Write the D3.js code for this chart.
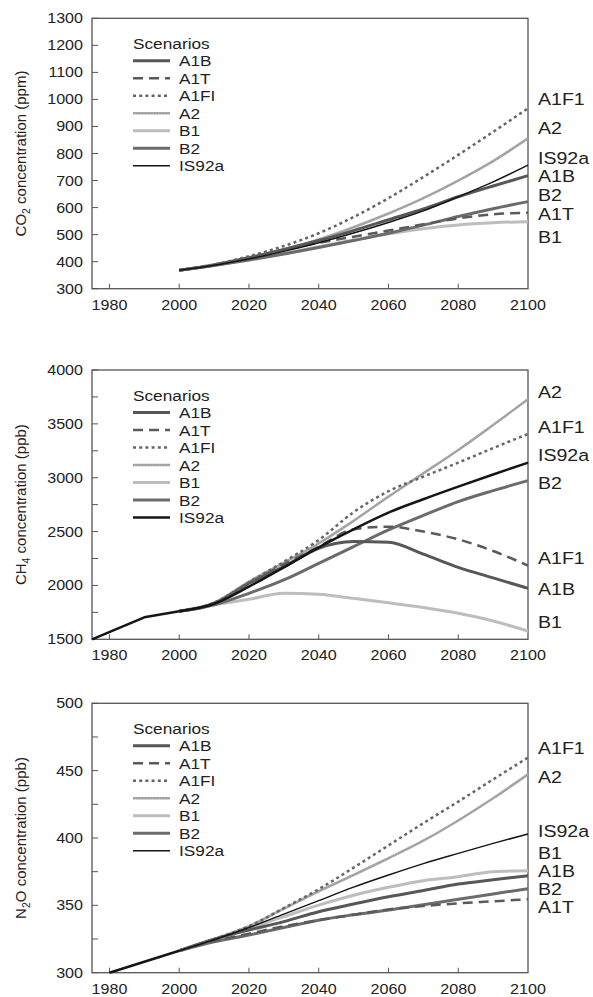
<!DOCTYPE html>
<html>
<head>
<meta charset="utf-8">
<script src="https://cdn.jsdelivr.net/npm/d3@7/dist/d3.min.js"></script>
<style>
  body { margin: 0; background: #fff; }
  svg { display: block; }
  text { font-family: "Liberation Sans", Arial, Helvetica, sans-serif; fill: #222; }
</style>
</head>
<body>
<svg id="chart" width="593" height="997"></svg>
<script>
// ---- data -------------------------------------------------------------
const scenarios = ["A1B", "A1T", "A1FI", "A2", "B1", "B2", "IS92a"];
const years = [2000, 2010, 2020, 2030, 2040, 2050, 2060, 2070, 2080, 2090, 2100];
const xTickYears = [1980, 2000, 2020, 2040, 2060, 2080, 2100];

// CO2 concentration (ppm)
const co2_A1B   = [368, 388, 415, 445, 478, 515, 555, 595, 640, 680, 718];
const co2_A1T   = [368, 388, 414, 443, 470, 492, 515, 538, 560, 575, 581];
const co2_A1FI  = [368, 390, 420, 458, 505, 565, 635, 713, 795, 880, 967];
const co2_A2    = [368, 388, 414, 445, 482, 527, 578, 635, 700, 772, 856];
const co2_B1    = [368, 387, 408, 430, 455, 480, 503, 522, 536, 544, 548];
const co2_B2    = [368, 386, 406, 428, 452, 478, 505, 535, 567, 596, 622];
const co2_IS92a = [368, 387, 410, 438, 470, 506, 545, 588, 640, 695, 757];
const co2LabelNames = ["A1F1", "A2", "IS92a", "A1B", "B2", "A1T", "B1"];
const co2LabelAt    = [1000, 894, 785, 716, 646, 577, 492];

// CH4 concentration (ppb)
const ch4HistYears = [1975, 1990, 2000];
const ch4Hist      = [1500, 1704, 1760];
const ch4_A1B   = [1760, 1830, 2020, 2175, 2345, 2407, 2400, 2290, 2168, 2070, 1973];
const ch4_A1T   = [1760, 1835, 2020, 2195, 2360, 2521, 2546, 2500, 2428, 2320, 2184];
const ch4_A1FI  = [1760, 1840, 2030, 2220, 2422, 2680, 2875, 3010, 3140, 3275, 3406];
const ch4_A2    = [1760, 1840, 2035, 2210, 2391, 2600, 2824, 3040, 3257, 3490, 3728];
const ch4_B1    = [1760, 1820, 1871, 1927, 1918, 1880, 1840, 1795, 1741, 1670, 1577];
const ch4_B2    = [1760, 1820, 1927, 2051, 2205, 2360, 2515, 2650, 2778, 2880, 2973];
const ch4_IS92a = [1760, 1830, 1989, 2168, 2354, 2521, 2676, 2800, 2917, 3030, 3140];
const ch4LabelNames = ["A2", "A1F1", "IS92a", "B2", "A1F1", "A1B", "B1"];
const ch4LabelAt    = [3798, 3474, 3211, 2948, 2258, 1964, 1658];

// N2O concentration (ppb)
const n2oHistYears = [1980, 2000];
const n2oHist      = [300, 316.3];
const n2o_A1B   = [316.3, 324.8, 331.7, 337.9, 345.3, 351, 356.4, 361, 365.8, 369, 372];
const n2o_A1T   = [316.3, 323.5, 329, 334.5, 339, 343, 347, 349.5, 351.5, 353, 354.5];
const n2o_A1FI  = [316.3, 325, 334.5, 348, 362, 378, 394.5, 411, 427, 443.5, 459.7];
const n2o_A2    = [316.3, 325, 334.5, 347.5, 360.5, 372.5, 385, 398, 413, 429.5, 447.3];
const n2o_B1    = [316.3, 324.5, 333, 341.6, 350.2, 357.5, 363.4, 368.3, 371.3, 375, 375.7];
const n2o_B2    = [316.3, 323, 328, 333.5, 339, 343, 346.5, 350.5, 354.5, 358.5, 362.4];
const n2o_IS92a = [316.3, 324.5, 333.5, 343.5, 353.5, 363.5, 372.5, 381, 388.6, 396, 403];
const n2oLabelNames = ["A1F1", "A2", "IS92a", "B1", "A1B", "B2", "A1T"];
const n2oLabelAt    = [466.6, 445.5, 405.4, 389.1, 375.7, 361.9, 348.6];

// ---- styles -----------------------------------------------------------
const lineStyle = {
  A1B:   { color: "#575757", width: 3,   dash: null },
  A1T:   { color: "#5a5a5a", width: 2.5, dash: "10,6" },
  A1FI:  { color: "#666666", width: 2.5, dash: "3,3.2" },
  A2:    { color: "#a9a9a9", width: 2.6, dash: null, speckle: true },
  B1:    { color: "#bdbdbd", width: 3,   dash: null },
  B2:    { color: "#6b6b6b", width: 3,   dash: null },
  IS92a: { color: "#151515", width: 1.5, dash: null }
};
const STRETCH = 1.15;   // the lettering is set a little wide

const svg = d3.select("#chart");
const x = d3.scaleLinear().domain([1975, 2100]).range([92, 528]);

function wideText(g, px, py, str, size, anchor) {
  return g.append("text")
    .attr("transform", `translate(${px},${py}) scale(${STRETCH},1)`)
    .attr("text-anchor", anchor || "start")
    .attr("font-size", size)
    .text(str);
}

const panels = [
  { top: 18.3, bottom: 288.7, domain: [300, 1300], major: 100, minor: 100,
    title: ["CO", "2", " concentration (ppm)"], isWidth: 1.5,
    series: [co2_A1B, co2_A1T, co2_A1FI, co2_A2, co2_B1, co2_B2, co2_IS92a],
    hist: null, labelNames: co2LabelNames, labelAt: co2LabelAt },
  { top: 370, bottom: 639.3, domain: [1500, 4000], major: 500, minor: 250,
    title: ["CH", "4", " concentration (ppb)"], isWidth: 2.5,
    series: [ch4_A1B, ch4_A1T, ch4_A1FI, ch4_A2, ch4_B1, ch4_B2, ch4_IS92a],
    hist: [ch4HistYears, ch4Hist], labelNames: ch4LabelNames, labelAt: ch4LabelAt },
  { top: 703.3, bottom: 972.7, domain: [300, 500], major: 50, minor: 25,
    title: ["N", "2", "O concentration (ppb)"], isWidth: 1.5,
    series: [n2o_A1B, n2o_A1T, n2o_A1FI, n2o_A2, n2o_B1, n2o_B2, n2o_IS92a],
    hist: [n2oHistYears, n2oHist], labelNames: n2oLabelNames, labelAt: n2oLabelAt }
];

function styleFor(name, p) {
  const s = Object.assign({}, lineStyle[name]);
  if (name === "IS92a") s.width = p.isWidth;
  return s;
}

function strokeLine(sel, s) {
  sel.attr("fill", "none")
    .attr("stroke", s.color)
    .attr("stroke-width", s.width)
    .attr("stroke-linejoin", "round")
    .attr("stroke-dasharray", s.dash);
}

panels.forEach(p => {
  const y = d3.scaleLinear().domain(p.domain).range([p.bottom, p.top]);
  const g = svg.append("g");
  const [x0, x1] = x.range();

  // minor + major ticks on the left axis, pointing inwards
  const yTicks = d3.range(p.domain[0], p.domain[1] + 0.001, p.minor);
  g.selectAll(".ytick").data(yTicks).join("line")
    .attr("x1", x0).attr("x2", x0 + 6)
    .attr("y1", d => y(d)).attr("y2", d => y(d))
    .attr("stroke", "#555").attr("stroke-width", 1);

  // bottom axis ticks, pointing inwards
  g.selectAll(".xtick").data(xTickYears.slice(0, -1)).join("line")
    .attr("x1", d => x(d)).attr("x2", d => x(d))
    .attr("y1", p.bottom).attr("y2", p.bottom - 5)
    .attr("stroke", "#555").attr("stroke-width", 1);

  // frame
  g.append("rect")
    .attr("x", x0).attr("y", p.top)
    .attr("width", x1 - x0).attr("height", p.bottom - p.top)
    .attr("fill", "none").attr("stroke", "#555").attr("stroke-width", 1.3);

  // tick labels
  d3.range(p.domain[0], p.domain[1] + 0.001, p.major).forEach(v => {
    wideText(g, 83, y(v) + 5, d3.format("d")(v), 14, "end");
  });
  xTickYears.forEach(v => {
    wideText(g, x(v), p.bottom + 21, String(v), 14, "middle");
  });

  // axis title with subscript
  const cy = (p.top + p.bottom) / 2;
  const t = g.append("text")
    .attr("transform", `translate(26,${cy}) rotate(-90)`)
    .attr("text-anchor", "middle")
    .attr("font-size", 15);
  t.append("tspan").text(p.title[0]);
  t.append("tspan").attr("font-size", 10.5).attr("dy", 4).text(p.title[1]);
  t.append("tspan").attr("dy", -4).text(p.title[2]);

  // scenario curves
  const line = d3.line()
    .x(d => x(d[0])).y(d => y(d[1]))
    .curve(d3.curveMonotoneX);
  const plot = g.append("g");
  const order = [4, 5, 3, 0, 1, 2, 6]; // light lines underneath, dark on top
  order.forEach(i => {
    const name = scenarios[i];
    const s = styleFor(name, p);
    const pts = years.map((yr, k) => [yr, p.series[i][k]]);
    plot.append("path").datum(pts).attr("d", line).call(strokeLine, s);
    if (s.speckle) {
      plot.append("path").datum(pts).attr("d", line)
        .attr("fill", "none").attr("stroke", "#8e8e8e")
        .attr("stroke-width", 1).attr("stroke-dasharray", "1,2");
    }
  });

  // shared history before 2000
  if (p.hist) {
    const hp = p.hist[0].map((yr, k) => [yr, p.hist[1][k]]);
    plot.append("path").datum(hp)
      .attr("d", d3.line().x(d => x(d[0])).y(d => y(d[1])))
      .attr("fill", "none").attr("stroke", "#151515")
      .attr("stroke-width", 2.5).attr("stroke-linejoin", "round");
  }

  // legend
  const lg = g.append("g");
  const ly0 = p.top + 25;
  wideText(lg, 133, ly0 + 5.5, "Scenarios", 15, "start");
  scenarios.forEach((name, i) => {
    const ly = ly0 + 17.5 * (i + 1);
    const s = styleFor(name, p);
    lg.append("line").attr("x1", 133).attr("x2", 170)
      .attr("y1", ly).attr("y2", ly).call(strokeLine, s);
    if (s.speckle) {
      lg.append("line").attr("x1", 133).attr("x2", 170)
        .attr("y1", ly).attr("y2", ly)
        .attr("stroke", "#8e8e8e").attr("stroke-width", 1)
        .attr("stroke-dasharray", "1,2");
    }
    wideText(lg, 179, ly + 5.5, name, 15, "start");
  });

  // end-of-century scenario names on the right
  p.labelNames.forEach((name, i) => {
    wideText(g, 538, y(p.labelAt[i]) + 6, name, 17, "start");
  });
});
</script>
</body>
</html>
